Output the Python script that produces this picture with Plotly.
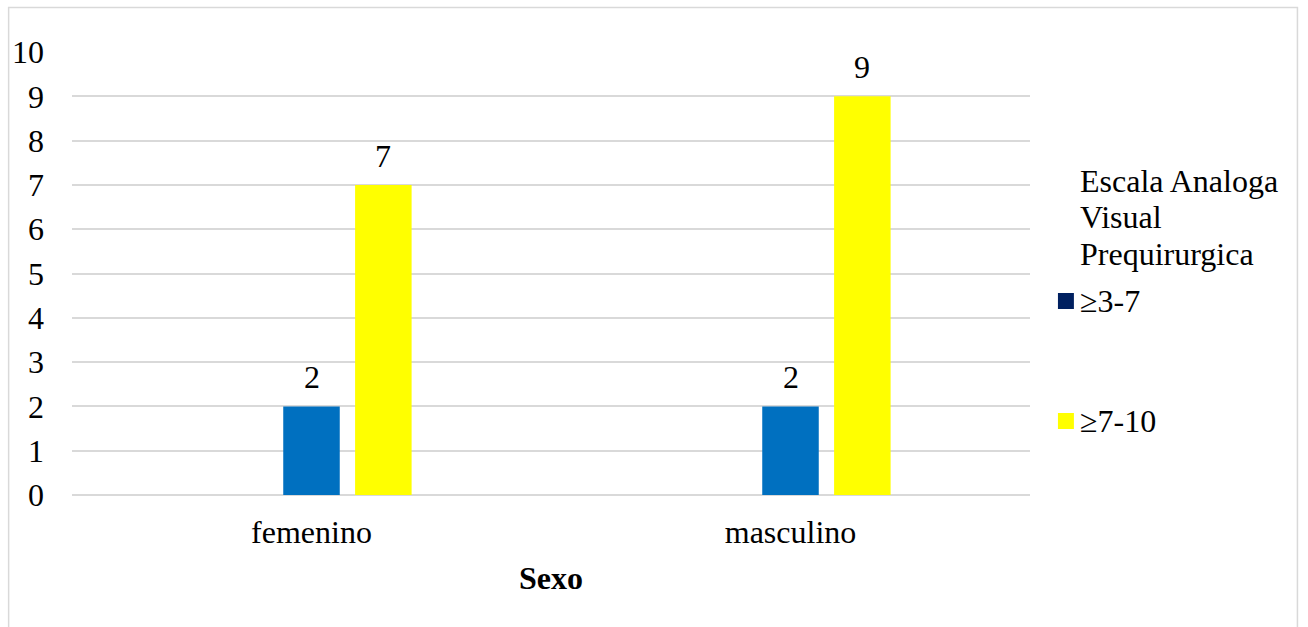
import plotly.graph_objects as go

# Data
categories = ["femenino", "masculino"]
legend_title_lines = ["Escala Analoga", "Visual", "Prequirurgica"]
series_names = ["≥3-7", "≥7-10"]
series_values = [
    [2, 2],   # ≥3-7
    [7, 9],   # ≥7-10
]
bar_colors = ["#0070C0", "#FFFF00"]
legend_colors = ["#002060", "#FFFF00"]
x_title = "Sexo"
y_ticks = list(range(0, 11))

FONT = "Liberation Serif"
FS = 32

W, H = 1308, 627
L, R, T, B = 70, 278, 52, 132
plot_w = W - L - R
plot_h = H - T - B

bar_width = 0.118
bar_offsets = [-0.059, 0.091]

fig = go.Figure()
for name, vals, color, off in zip(series_names, series_values, bar_colors, bar_offsets):
    fig.add_trace(go.Bar(
        x=categories, y=vals, name=name,
        marker=dict(color=color, line=dict(width=0)),
        width=bar_width, offset=off, showlegend=False,
    ))

# value labels above each bar
annotations = []
for vals, off in zip(series_values, bar_offsets):
    for i, v in enumerate(vals):
        annotations.append(dict(
            x=i + off + bar_width / 2, y=v, xref="x", yref="y",
            text=str(v), showarrow=False, yanchor="bottom", xanchor="center",
            yshift=9, font=dict(family=FONT, size=FS, color="black"),
        ))

# axis title
annotations.append(dict(
    x=0.5, y=(495 - 578) / plot_h, xref="paper", yref="paper",
    text="<b>" + x_title + "</b>", showarrow=False, xanchor="center", yanchor="middle",
    font=dict(family=FONT, size=FS, color="black"),
))

def px(xp):
    return (xp - L) / plot_w

def py(yp):
    return (H - B - yp) / plot_h

# legend title lines
for line, yc in zip(legend_title_lines, [181, 217, 254]):
    annotations.append(dict(
        x=px(1078), y=py(yc), xref="paper", yref="paper", text=line,
        showarrow=False, xanchor="left", yanchor="middle", align="left",
        font=dict(family=FONT, size=FS, color="black"),
    ))

shapes = []
for name, color, yc in zip(series_names, legend_colors, [301, 421]):
    annotations.append(dict(
        x=px(1078), y=py(yc), xref="paper", yref="paper", text=name,
        showarrow=False, xanchor="left", yanchor="middle",
        font=dict(family=FONT, size=FS, color="black"),
    ))
    shapes.append(dict(
        type="rect", xref="paper", yref="paper",
        x0=px(1058), x1=px(1074), y0=py(yc + 8), y1=py(yc - 8),
        fillcolor=color, line=dict(width=0),
    ))

# chart border
shapes.append(dict(
    type="rect", xref="paper", yref="paper",
    x0=px(6.5), x1=px(1298), y0=py(640), y1=py(7.5),
    line=dict(color="#D9D9D9", width=1.5), fillcolor="rgba(0,0,0,0)", layer="below",
))

fig.update_layout(
    width=W, height=H,
    margin=dict(l=L, r=R, t=T, b=B),
    paper_bgcolor="white", plot_bgcolor="white",
    barmode="overlay",
    annotations=annotations, shapes=shapes,
    showlegend=False,
)
fig.update_xaxes(
    type="category", showgrid=False, showline=False, zeroline=False,
    ticks="", tickfont=dict(family=FONT, size=FS, color="black"),
    ticklabelstandoff=15, range=[-0.5, 1.5],
)
fig.update_yaxes(
    range=[0, 10], tickvals=y_ticks, showgrid=True, gridcolor="#D9D9D9", gridwidth=1.5,
    zeroline=True, zerolinecolor="#D9D9D9", zerolinewidth=1.5, showline=False,
    ticks="", tickfont=dict(family=FONT, size=FS, color="black"),
    ticklabelstandoff=27,
)

fig.write_html("out.html")
